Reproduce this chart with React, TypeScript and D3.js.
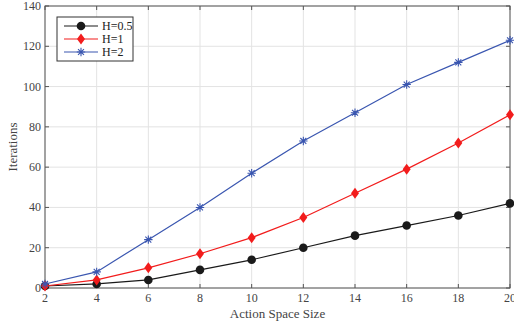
import React from "react";
import * as d3 from "d3";

const xValues = [2, 4, 6, 8, 10, 12, 14, 16, 18, 20];
const h05 = [1, 2, 4, 9, 14, 20, 26, 31, 36, 42];
const h1 = [1, 4, 10, 17, 25, 35, 47, 59, 72, 86];
const h2 = [2, 8, 24, 40, 57, 73, 87, 101, 112, 123];
const xTicks = [2, 4, 6, 8, 10, 12, 14, 16, 18, 20];
const yTicks = [0, 20, 40, 60, 80, 100, 120, 140];
const seriesNames = ["H=0.5", "H=1", "H=2"];

const W = 514, H = 327;
const L = 45, R = 510, T = 6, B = 288;

export default function App() {
  const x = d3.scaleLinear().domain([2, 20]).range([L, R]);
  const y = d3.scaleLinear().domain([0, 140]).range([B, T]);
  const line = d3.line<number>().x((_, i) => x(xValues[i])).y((d) => y(d));
  const series = [
    { name: seriesNames[0], data: h05, color: "#1a1a1a", marker: "circle" },
    { name: seriesNames[1], data: h1, color: "#f21c1c", marker: "diamond" },
    { name: seriesNames[2], data: h2, color: "#3a56b0", marker: "star" },
  ];
  const font = "'Liberation Serif', 'Times New Roman', serif";
  const axisColor = "#555";
  const textColor = "#444";

  const marker = (type: string, cx: number, cy: number, color: string, key: string) => {
    if (type === "circle") return <circle key={key} cx={cx} cy={cy} r={4.3} fill={color} />;
    if (type === "diamond")
      return (
        <path key={key} d={`M${cx},${cy - 5.5}L${cx + 4},${cy}L${cx},${cy + 5.5}L${cx - 4},${cy}Z`} fill={color} />
      );
    const s = 4.2;
    const d = s * 0.707;
    return (
      <path
        key={key}
        d={`M${cx - s},${cy}L${cx + s},${cy}M${cx},${cy - s}L${cx},${cy + s}M${cx - d},${cy - d}L${cx + d},${cy + d}M${cx - d},${cy + d}L${cx + d},${cy - d}`}
        stroke={color}
        strokeWidth={1.1}
        fill="none"
      />
    );
  };

  return (
    <svg width={W} height={H} style={{ position: "absolute", left: 0, top: 0 }}>
      <rect x={0} y={0} width={W} height={H} fill="#fff" />
      {/* grid */}
      {xTicks.map((t) => (
        <line key={"gx" + t} x1={x(t)} x2={x(t)} y1={T} y2={B} stroke="#e3e3e3" strokeWidth={1} />
      ))}
      {yTicks.map((t) => (
        <line key={"gy" + t} x1={L} x2={R} y1={y(t)} y2={y(t)} stroke="#e3e3e3" strokeWidth={1} />
      ))}
      {/* box */}
      <rect x={L} y={T} width={R - L} height={B - T} fill="none" stroke={axisColor} strokeWidth={1} />
      {/* ticks */}
      {xTicks.map((t) => (
        <g key={"tx" + t}>
          <line x1={x(t)} x2={x(t)} y1={B} y2={B - 4} stroke={axisColor} />
          <line x1={x(t)} x2={x(t)} y1={T} y2={T + 4} stroke={axisColor} />
          <text x={x(t)} y={B + 14} textAnchor="middle" fontFamily={font} fontSize={12} fill={textColor}>
            {t}
          </text>
        </g>
      ))}
      {yTicks.map((t) => (
        <g key={"ty" + t}>
          <line x1={L} x2={L + 4} y1={y(t)} y2={y(t)} stroke={axisColor} />
          <line x1={R} x2={R - 4} y1={y(t)} y2={y(t)} stroke={axisColor} />
          <text x={L - 4} y={y(t) + 4} textAnchor="end" fontFamily={font} fontSize={12} fill={textColor}>
            {t}
          </text>
        </g>
      ))}
      {/* series */}
      {series.map((s) => (
        <g key={s.name}>
          <path d={line(s.data) || ""} fill="none" stroke={s.color} strokeWidth={1.2} />
          {s.data.map((v, i) => marker(s.marker, x(xValues[i]), y(v), s.color, s.name + i))}
        </g>
      ))}
      {/* axis labels */}
      <text x={(L + R) / 2} y={318} textAnchor="middle" fontFamily={font} fontSize={13} fill={textColor}>
        Action Space Size
      </text>
      <text
        transform={`translate(17,${(T + B) / 2}) rotate(-90)`}
        textAnchor="middle"
        fontFamily={font}
        fontSize={13}
        fill={textColor}
      >
        Iterations
      </text>
      {/* legend */}
      <rect x={57} y={17} width={76} height={44} fill="#fff" stroke="#333" strokeWidth={1} />
      {series.map((s, i) => {
        const ly = 26 + i * 13;
        return (
          <g key={"lg" + s.name}>
            <line x1={64} x2={98} y1={ly} y2={ly} stroke={s.color} strokeWidth={1.2} />
            {marker(s.marker, 81, ly, s.color, "lm" + i)}
            <text x={102} y={ly + 4} fontFamily={font} fontSize={12} fill="#222">
              {s.name}
            </text>
          </g>
        );
      })}
    </svg>
  );
}
